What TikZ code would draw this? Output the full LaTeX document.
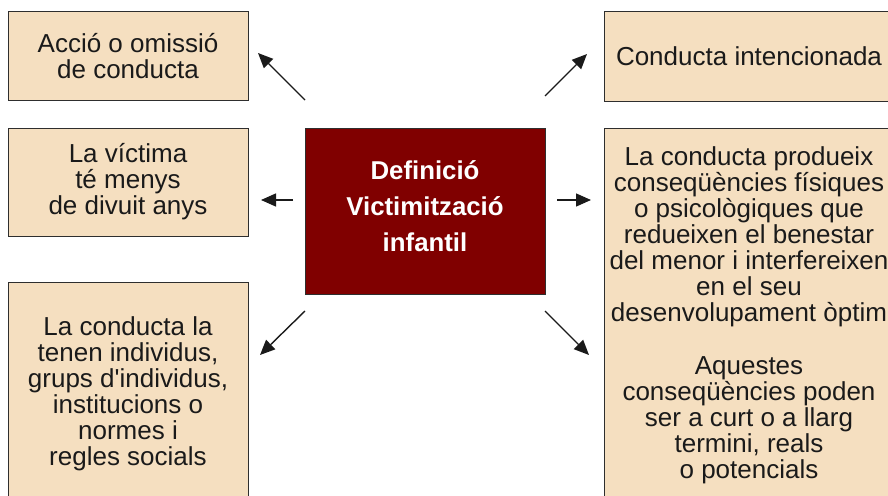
\documentclass[tikz,border=0pt]{standalone}
\usepackage{fontspec}
\setmainfont{Liberation Sans}
\usetikzlibrary{arrows.meta}
\definecolor{boxfill}{HTML}{F5DFC0}
\definecolor{darkred}{HTML}{800000}
\definecolor{edgecol}{HTML}{2E2E2E}
\definecolor{inkcol}{HTML}{1A1A1A}
\begin{document}
\begin{tikzpicture}[x=1pt,y=-1pt,
  box/.style={draw=edgecol,line width=1.3pt,fill=boxfill,anchor=north west,inner sep=0},
  centrebox/.style={box,fill=darkred},
  txt/.style={align=center,font=\fontsize{26}{26}\selectfont,text=inkcol,inner sep=0},
  ctxt/.style={align=center,font=\fontsize{25.8}{36}\selectfont\bfseries,text=white,inner sep=0},
  arr/.style={-{Triangle[length=15pt,width=13pt]},line width=1.4pt,draw=inkcol}]
\useasboundingbox (0,0) rectangle (888,495);
\clip (0,0) rectangle (888,495);
\fill[white] (0,0) rectangle (888,495);
% boxes
\node[box,minimum width=240pt,minimum height=89pt] (b1) at (8,11) {};
\node[box,minimum width=240pt,minimum height=108pt] (b2) at (8,128) {};
\node[box,minimum width=240pt,minimum height=260pt] (b3) at (8,282) {};
\node[centrebox,minimum width=240pt,minimum height=166pt] (c) at (305,128) {};
\node[box,minimum width=310pt,minimum height=90pt] (b4) at (604,11) {};
\node[box,minimum width=310pt,minimum height=400pt] (b5) at (604,128) {};
% texts
\node[txt] (t1) at (128,56) {Acció o omissió\\de conducta};
\node[txt] (t2) at (128,182) {La víctima\\té menys\\de divuit anys};
\node[txt] (t3) at (128,394) {La conducta la\\tenen individus,\\grups d\textquotesingle individus,\\institucions o\\normes i\\regles socials};
\node[txt] (t4) at (749,56) {Conducta intencionada};
\node[ctxt] (tc) at (425,206) {Definició\\Victimització\\infantil};
\node[txt] (t5) at (749,315.5) {La conducta produeix\\conseqüències físiques\\o psicològiques que\\redueixen el benestar\\del menor i interfereixen\\en el seu\\desenvolupament òptim\\[27pt]Aquestes\\conseqüències poden\\ser a curt o a llarg\\termini, reals\\o potencials};
% arrows
\coordinate (s1) at (305,100); \coordinate (e1) at (258,53);
\coordinate (s2) at (293,200); \coordinate (e2) at (261,200);
\coordinate (s3) at (305,311); \coordinate (e3) at (260,355);
\coordinate (s4) at (545,96);  \coordinate (e4) at (587,54);
\coordinate (s5) at (557,200); \coordinate (e5) at (591,200);
\coordinate (s6) at (545,311); \coordinate (e6) at (589,355);
\draw[arr] (s1) -- (e1);
\draw[arr] (s2) -- (e2);
\draw[arr] (s3) -- (e3);
\draw[arr] (s4) -- (e4);
\draw[arr] (s5) -- (e5);
\draw[arr] (s6) -- (e6);
\end{tikzpicture}
\end{document}
